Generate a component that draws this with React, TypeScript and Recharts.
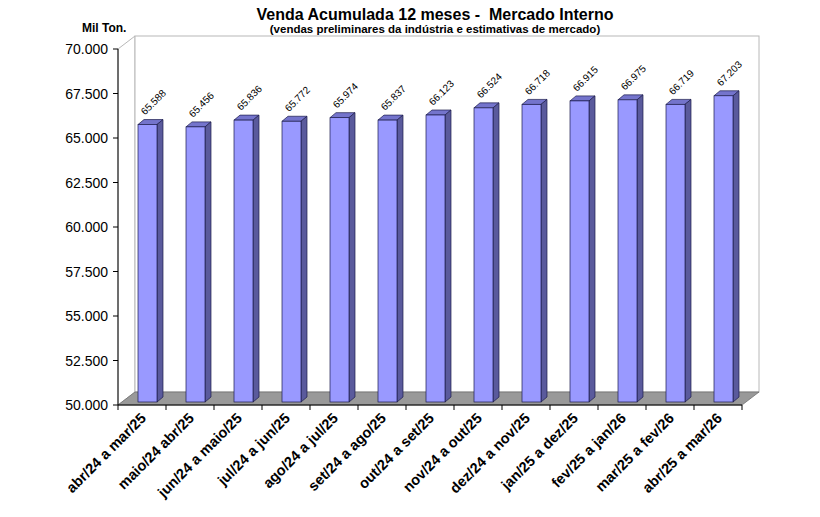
import { Bar, BarChart, ReferenceArea, XAxis, YAxis } from 'recharts';

const categories = [
  'abr/24 a mar/25',
  'maio/24 abr/25',
  'jun/24 a maio/25',
  'jul/24 a jun/25',
  'ago/24 a jul/25',
  'set/24 a ago/25',
  'out/24 a set/25',
  'nov/24 a out/25',
  'dez/24 a nov/25',
  'jan/25 a dez/25',
  'fev/25 a jan/26',
  'mar/25 a fev/26',
  'abr/25 a mar/26'
];
const sales = [65588, 65456, 65836, 65772, 65974, 65837, 66123, 66524, 66718, 66915, 66975, 66719, 67203];
const yTicks = [50000, 52500, 55000, 57500, 60000, 62500, 65000, 67500, 70000];

const data = categories.map((name, i) => ({ name, value: sales[i] }));

const fmt = (v: number) => String(v).replace(/\B(?=(\d{3})+(?!\d))/g, '.');

const FONT = '"Liberation Sans", Arial, sans-serif';
const DX = 17;
const DY = 13;

const Walls = (props: any) => {
  const { x, y, width, height } = props;
  const b = y + height;
  return (
    <g>
      <polygon
        points={`${x},${y} ${x + DX},${y - DY} ${x + DX},${b - DY} ${x},${b}`}
        fill="#fff"
        stroke="#b8b8b8"
      />
      <rect x={x + DX} y={y - DY} width={width} height={height} fill="#fff" stroke="#b8b8b8" />
      <polygon
        points={`${x},${b} ${x + width},${b} ${x + width + DX},${b - DY} ${x + DX},${b - DY}`}
        fill="#999999"
        stroke="#707070"
        strokeWidth={0.8}
      />
    </g>
  );
};

const Bar3D = (props: any) => {
  const { x, y, width, height, value } = props;
  const fx = x + 5;
  const fy = y - 3;
  const d = 6;
  const e = 5;
  return (
    <g>
      <polygon
        points={`${fx},${fy} ${fx + d},${fy - e} ${fx + width + d},${fy - e} ${fx + width},${fy}`}
        fill="#7474cc"
        stroke="#1c1c4c"
        strokeWidth={0.7}
      />
      <polygon
        points={`${fx + width},${fy} ${fx + width + d},${fy - e} ${fx + width + d},${fy + height - e} ${fx + width},${fy + height}`}
        fill="#5a5a9c"
        stroke="#1c1c4c"
        strokeWidth={0.7}
      />
      <rect x={fx} y={fy} width={width} height={height} fill="#9999ff" stroke="#1c1c4c" strokeWidth={0.7} />
      <text
        x={fx + 7}
        y={fy - 9}
        transform={`rotate(-45 ${fx + 7} ${fy - 9})`}
        fontSize={10}
        fontFamily={FONT}
        fill="#000"
      >
        {fmt(Array.isArray(value) ? value[1] : value)}
      </text>
    </g>
  );
};

const XTick = (props: any) => {
  const { x, y, payload, index } = props;
  const off = payload?.offset ?? 24;
  return (
    <g>
      <line x1={x - off} y1={y} x2={x - off} y2={y + 5} stroke="#000" />
      {index === categories.length - 1 && (
        <line x1={x + off} y1={y} x2={x + off} y2={y + 5} stroke="#000" />
      )}
      <text
        x={x + 5}
        y={y + 14}
        transform={`rotate(-45 ${x + 5} ${y + 14})`}
        textAnchor="end"
        fontSize={14.5}
        fontWeight="bold"
        fontFamily={FONT}
        fill="#000"
      >
        {payload.value}
      </text>
    </g>
  );
};

const YTick = (props: any) => {
  const { x, y, payload } = props;
  return (
    <text x={x} y={y} dy={5} textAnchor="end" fontSize={14} fontFamily={FONT} fill="#000">
      {fmt(payload.value)}
    </text>
  );
};

export default function App() {
  return (
    <div style={{ position: 'relative', width: 804, height: 508, marginTop: -8, fontFamily: FONT }}>
      <BarChart
        width={804}
        height={508}
        data={data}
        margin={{ top: 49, right: 70, left: 50, bottom: 0 }}
        barSize={19}
      >
        <ReferenceArea y1={50000} y2={70000} ifOverflow="visible" shape={Walls} zIndex={-100} />
        <XAxis
          dataKey="name"
          height={103}
          interval={0}
          stroke="#000"
          tickLine={false}
          tickSize={0}
          tickMargin={0}
          tick={XTick}
        />
        <YAxis
          domain={[50000, 70000]}
          ticks={yTicks}
          width={60}
          stroke="#000"
          tickSize={5}
          tickMargin={5}
          tick={YTick}
          allowDataOverflow
        />
        <Bar dataKey="value" shape={Bar3D} isAnimationActive={false} />
      </BarChart>
      <div
        style={{
          position: 'absolute',
          left: 0,
          width: 854,
          top: 7,
          lineHeight: '16px',
          textAlign: 'center',
          fontSize: 16,
          fontWeight: 'bold'
        }}
      >
        Venda Acumulada 12 meses -&nbsp; Mercado Interno
      </div>
      <div
        style={{
          position: 'absolute',
          left: 0,
          width: 854,
          top: 23,
          lineHeight: '12px',
          textAlign: 'center',
          fontSize: 11.5,
          fontWeight: 'bold'
        }}
      >
        (vendas preliminares da indústria e estimativas de mercado)
      </div>
      <div style={{ position: 'absolute', left: 74, top: 21, fontSize: 12, fontWeight: 'bold' }}>
        Mil Ton.
      </div>
    </div>
  );
}
